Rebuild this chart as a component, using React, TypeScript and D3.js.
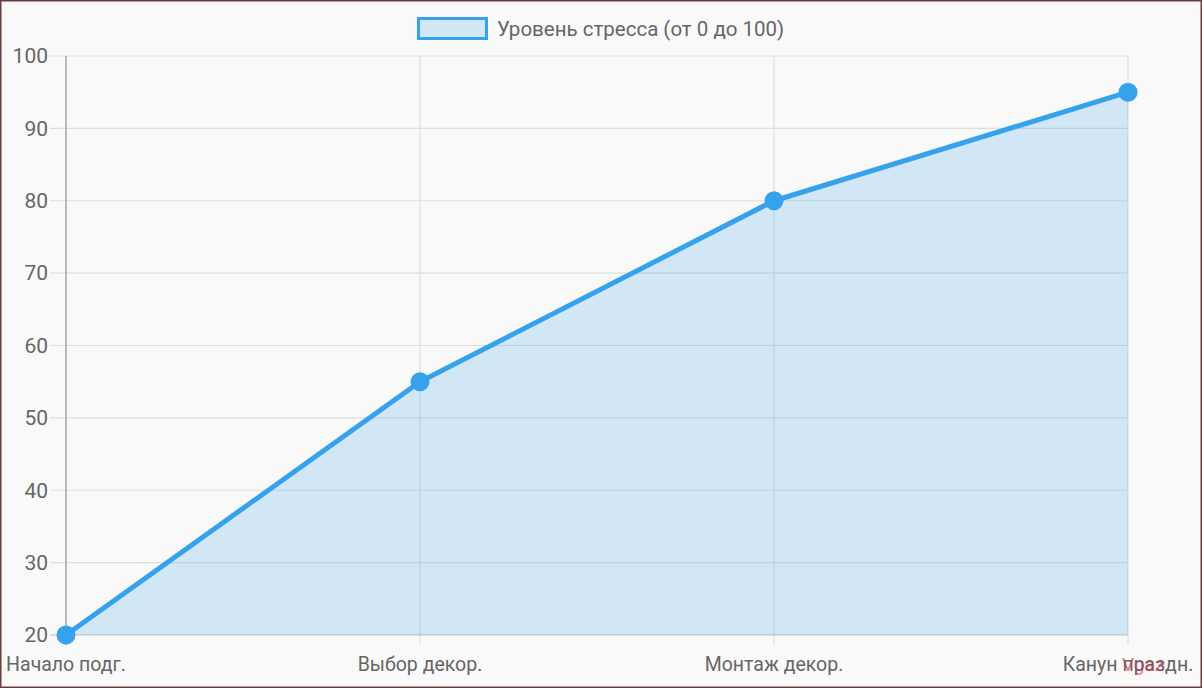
import React from "react";
import * as d3 from "d3";

const categories = ["Начало подг.", "Выбор декор.", "Монтаж декор.", "Канун праздн."];
const stressValues = [20, 55, 80, 95];
const yTicks = [20, 30, 40, 50, 60, 70, 80, 90, 100];
const seriesLabel = "Уровень стресса (от 0 до 100)";

const W = 1202;
const H = 688;
const left = 66, right = 1128, top = 56, bottom = 635;
const blue = "rgb(54,162,235)";
const fillBlue = "rgba(54,162,235,0.2)";
const font = "Roboto, 'Liberation Sans', Arial, sans-serif";

export default function App() {
  const x = d3.scalePoint<string>().domain(categories).range([left, right]);
  const y = d3.scaleLinear().domain([20, 100]).range([bottom, top]);
  const pts = categories.map((c, i) => [x(c) as number, y(stressValues[i])] as [number, number]);
  const line = d3.line()(pts) as string;
  const area = d3.area<[number, number]>().x(d => d[0]).y0(y(20)).y1(d => d[1])(pts) as string;

  return (
    <svg width={W} height={H} style={{ position: "absolute", left: 0, top: 0, display: "block" }} fontFamily={font}>
      <rect x={0} y={0} width={W} height={H} fill="#f9f9f9" />
      <rect x={0.75} y={0.75} width={W - 1.5} height={H - 1.5} fill="none" stroke="#6e3b3b" strokeWidth={1.5} />
      {yTicks.map(t => (
        <line key={"h" + t} x1={50} x2={right} y1={y(t)} y2={y(t)} stroke="#dedede" strokeWidth={1.2} />
      ))}
      {categories.map(c => (
        <line key={"v" + c} x1={x(c)} x2={x(c)} y1={top} y2={bottom + 10} stroke="#dedede" strokeWidth={1.2} />
      ))}
      <line x1={left} x2={left} y1={top} y2={bottom + 10} stroke="#a8a8a8" strokeWidth={1.5} />
      <line x1={50} x2={right} y1={bottom} y2={bottom} stroke="#cfcfcf" strokeWidth={1.2} />
      {yTicks.map(t => (
        <text key={"yl" + t} x={48} y={y(t)} dy="0.35em" textAnchor="end" fontSize={21} fill="#666">{t}</text>
      ))}
      {categories.map(c => (
        <text key={"xl" + c} x={x(c)} y={671} textAnchor="middle" fontSize={19.5} fill="#666">{c}</text>
      ))}
      <path d={area} fill={fillBlue} />
      <path d={line} fill="none" stroke={blue} strokeWidth={5} strokeLinejoin="round" />
      {pts.map((p, i) => (
        <circle key={"p" + i} cx={p[0]} cy={p[1]} r={9.5} fill={blue} />
      ))}
      <rect x={418.5} y={18.5} width={68} height={20} fill={fillBlue} stroke={blue} strokeWidth={3} />
      <text x={497} y={29} dy="0.35em" fontSize={20.5} fill="#666">{seriesLabel}</text>
      <text x={1122} y={671} fontSize={19} fill="rgba(200,40,60,0.6)">Vgaz</text>
    </svg>
  );
}
